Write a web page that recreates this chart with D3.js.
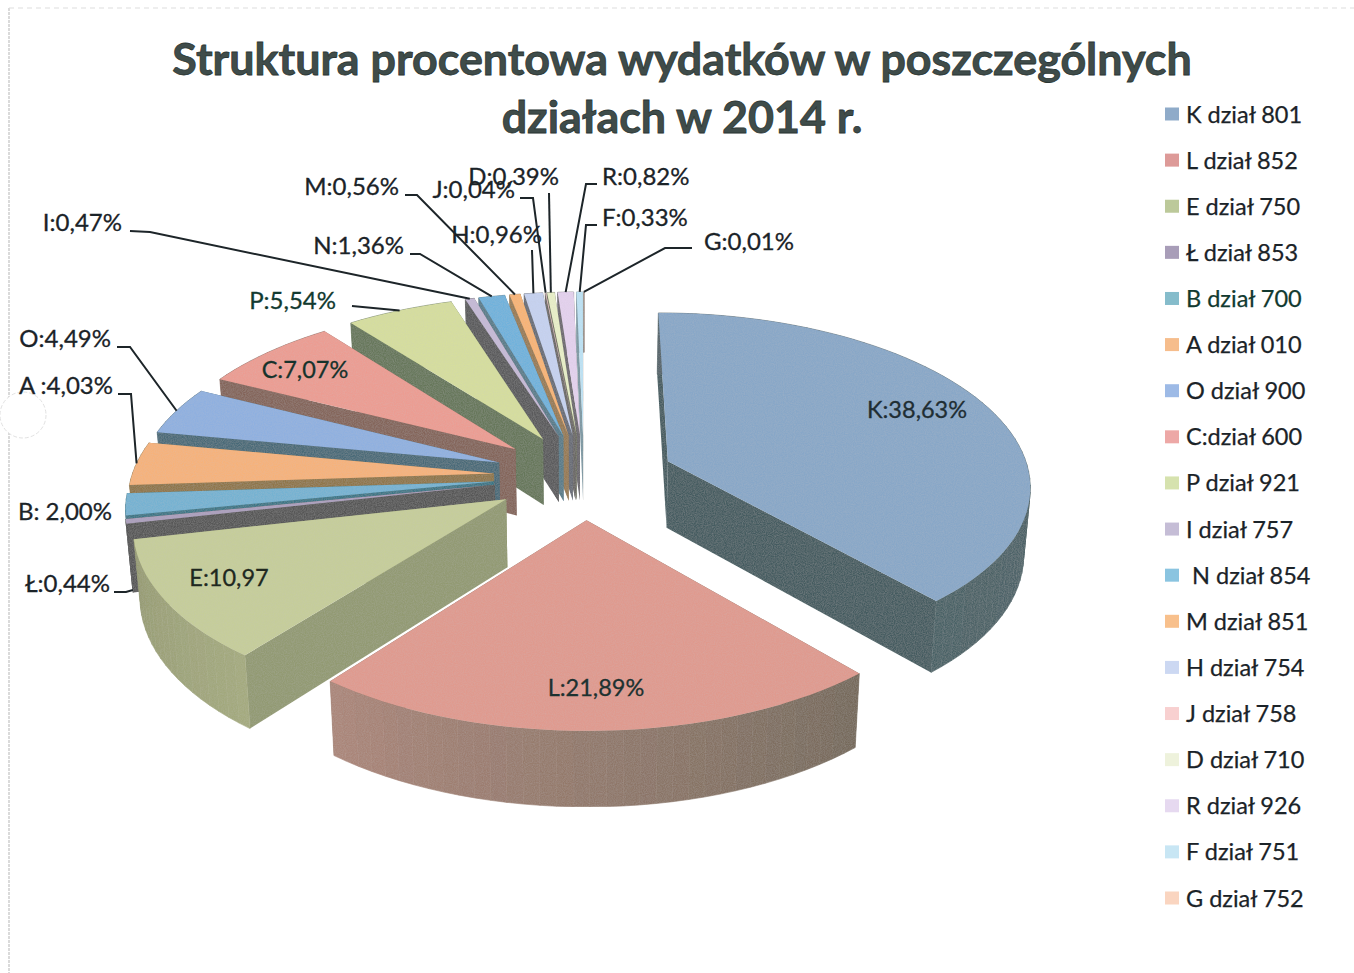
<!DOCTYPE html>
<html><head><meta charset="utf-8">
<style>html,body{margin:0;padding:0;background:#fff}svg{display:block}text{font-family:Lato,"Open Sans",sans-serif}</style>
<script src="https://cdn.jsdelivr.net/npm/d3@7"></script></head>
<body><svg id="c" width="1354" height="973"></svg>
<script>
// ---- data ----
const categories = ["K","L","E","Ł","B","A","O","C","P","I","N","M","H","J","D","R","F","G"];
const values = [38.63,21.89,10.97,0.44,2.00,4.03,4.49,7.07,5.54,0.47,1.36,0.56,0.96,0.04,0.39,0.82,0.33,0.01];
const legendLabels = ["K dział 801","L dział 852","E dział 750","Ł dział 853","B dział 700","A dział 010","O dział 900","C:dział 600","P dział 921","I dział 757"," N dział 854","M dział 851","H dział 754","J dział 758","D dział 710","R dział 926","F dział 751","G dział 752"];
const sliceLabels = ["K:38,63%","L:21,89%","E:10,97","Ł:0,44%","B: 2,00%","A :4,03%","O:4,49%","C:7,07%","P:5,54%","I:0,47%","N:1,36%","M:0,56%","H:0,96%","J:0,04%","D:0,39%","R:0,82%","F:0,33%","G:0,01%"];
const titleLines = ["Struktura procentowa wydatków w poszczególnych","działach w 2014 r."];
// ---- colours ----
const topColors = ["#88a7c8","#e09a8e","#c6cd9a","#ab9fbc","#74b2d2","#f6b27a","#8fb0e0","#ec9c92","#d6de9e","#c5b9d6","#70b2dc","#f8b474","#c6d2f0","#f5cdcd","#e8efc8","#e4d2ee","#bde2f4","#f8cfb5"];
const legendColors = ["#8fabc9","#dd9a98","#bcc99a","#a89db8","#85bccb","#f6bd8c","#9dbae6","#eda8a6","#d6e2ae","#c5bdd6","#8ac4e0","#f8c08c","#ccd8f2","#f8d0d0","#eef2dc","#e6d9f0","#c8e6f4","#fad5c0"];
const wallColors = ["#445c60","#76685a","#929a72","#565656","#3a7686","#8f7648","#4a6a78","#84655a","#66775a","#5a5a5c","#587c8a","#987a52","#686c76","#6b6866","#6d705e","#6c686e","#7d98a3","#8b7b6e"];
const rimStart = ["#54646a","#75695a","#a4aa7e","#565656","#3a7686","#8f7648","#4a6a78","#84655a","#66775a","#5a5a5c","#587c8a","#987a52","#686c76","#6b6866","#6d705e","#6c686e","#7d98a3","#8b7b6e"];
const rimEnd   = ["#4a6266","#ac8679","#969b72","#565656","#3a7686","#8f7648","#4a6a78","#84655a","#66775a","#5a5a5c","#587c8a","#987a52","#686c76","#6b6866","#6d705e","#6c686e","#7d98a3","#8b7b6e"];
const labelInk = ["#1f2e34","#1d3230","#20281f","#1b2328","#1b2328","#1b2328","#1b2328","#16332c","#123a30","#1b2328","#1b2328","#1b2328","#1b2328","#1b2328","#1b2328","#1b2328","#1b2328","#1b2328"];
// ---- layout ----
const cx=584, cy=476, R=362, A=171, persp=0.129, explode=0.25, depth=67, baseScale=0.985;
const labelPos = {K:[917,418,"middle",23.5],L:[596,696,"middle",23.5],E:[229,586,"middle",23.5],"C":[305,378,"middle",23.5],
  "Ł":[110,592,"end",24],B:[112,520,"end",24],A:[113,394,"end",24],O:[111,347,"end",24],P:[336,309,"end",24],I:[122,231,"end",24],
  N:[404,254,"end",24],M:[399,195,"end",24],H:[542,243,"end",24],J:[515,198,"end",24],D:[559,185,"end",24],R:[602,185,"start",24],F:[602,226,"start",24],G:[704,250,"start",24]};
const leaderElbows = {"Ł":[[114,592],[126,592]],A:[[118,394],[131,394]],O:[[117,347],[130,347]],P:[[352,306]],I:[[130,231],[150,232]],
  N:[[410,254],[420,254]],M:[[405,195],[417,195]],H:[[532,250]],J:[[520,198],[533,198]],D:[[549,193]],R:[[597,184],[586,184]],F:[[597,225],[586,225]],G:[[692,248],[665,248]]};
const leaderToBase = ["Ł"];

const svg=d3.select("#c");
const defs=svg.append("defs");
const f=defs.append("filter").attr("id","grain").attr("x",0).attr("y",0).attr("width","100%").attr("height","100%");
f.append("feTurbulence").attr("type","fractalNoise").attr("baseFrequency",0.9).attr("numOctaves",2).attr("seed",4).attr("result","n");
f.append("feColorMatrix").attr("in","n").attr("type","matrix").attr("values","0 0 0 0 0.55 0 0 0 0 0.55 0 0 0 0 0.55 0.32 0 0 0 -0.09").attr("result","g");
f.append("feComposite").attr("in","g").attr("in2","SourceAlpha").attr("operator","in").attr("result","g2");
f.append("feMerge").selectAll("feMergeNode").data(["SourceGraphic","g2"]).join("feMergeNode").attr("in",d=>d);

// scan frame
svg.append("line").attr("x1",9).attr("x2",9).attr("y1",8).attr("y2",973).attr("stroke","#b5b5b5").attr("stroke-width",1).attr("stroke-dasharray","3 1");
svg.append("line").attr("x1",9).attr("x2",1354).attr("y1",8).attr("y2",8).attr("stroke","#dddddd").attr("stroke-width",1).attr("stroke-dasharray","5 4");
svg.append("circle").attr("cx",23).attr("cy",415).attr("r",23).attr("fill","#fff").attr("stroke","#e2e2e2").attr("stroke-width",1).attr("stroke-dasharray","4 2");

// projection of plane coords (u right, v to viewer), base=true for the bottom plane
function project(u,v,base){
  const s=1/(1-persp*v);
  const x=R*u*s, y=A*v*s;
  return base?[cx+x*baseScale, cy+y*baseScale+depth*s]:[cx+x,cy+y];
}
const pie=d3.pie().sort(null).value(d=>d.value);
const arcs=pie(values.map((value,i)=>({value,i})));
const line=d3.line();
const slices=arcs.map(a=>{
  const i=a.data.i, mid=(a.startAngle+a.endAngle)/2;
  const ou=explode*Math.sin(mid), ov=-explode*Math.cos(mid);
  const rim=t=>{const th=a.startAngle+(a.endAngle-a.startAngle)*t;return [ou+Math.sin(th),ov-Math.cos(th)];};
  return {i,mid,ou,ov,rim,a};
}).sort((p,q)=>(-Math.cos(p.mid))-(-Math.cos(q.mid)));

const g=svg.append("g").attr("filter","url(#grain)");
slices.forEach(s=>{
  const n=Math.max(2,Math.ceil((s.a.endAngle-s.a.startAngle)/0.04));
  const ts=d3.range(n+1).map(k=>k/n);
  const col=d3.interpolateRgb(rimStart[s.i],rimEnd[s.i]);
  // radial walls
  [0,1].forEach(t=>{
    const p=s.rim(t);
    g.append("path").attr("d",line([project(s.ou,s.ov),project(p[0],p[1]),project(p[0],p[1],true),project(s.ou,s.ov,true)])+"Z")
      .attr("fill",wallColors[s.i]);
  });
  // outer rim band
  d3.pairs(ts).forEach(([t0,t1])=>{
    const p0=s.rim(t0),p1=s.rim(t1);
    g.append("path").attr("d",line([project(p0[0],p0[1]),project(p1[0],p1[1]),project(p1[0],p1[1],true),project(p0[0],p0[1],true)])+"Z")
      .attr("fill",col((t0+t1)/2)).attr("stroke",col((t0+t1)/2)).attr("stroke-width",0.6);
  });
  // top face
  g.append("path").attr("d",line([project(s.ou,s.ov),...ts.map(t=>{const p=s.rim(t);return project(p[0],p[1]);})])+"Z")
    .attr("fill",topColors[s.i]);
});

// leaders
const lg=svg.append("g").attr("fill","none").attr("stroke","#1d2529").attr("stroke-width",2);
slices.forEach(s=>{
  const c=categories[s.i], el=leaderElbows[c];
  if(!el) return;
  const p=s.rim(0.5), q=project(p[0],p[1],leaderToBase.includes(c));
  lg.append("path").attr("d",line([...el,q]));
});
// slice labels
const lab=svg.append("g").attr("stroke-width",0.3);
categories.forEach((c,i)=>{
  const p=labelPos[c]; if(!p) return;
  lab.append("text").attr("x",p[0]).attr("y",p[1]).attr("text-anchor",p[2]).attr("font-size",p[3]).attr("fill",labelInk[i]).attr("stroke",labelInk[i]).text(sliceLabels[i]);
});
// title
svg.append("g").attr("font-size",44.8).attr("font-weight",700).attr("fill","#3f4c4a").attr("stroke","#2b3634").attr("stroke-width",0.8).attr("text-anchor","middle")
 .selectAll("text").data(titleLines).join("text").attr("x",682).attr("y",(d,i)=>75+i*58).text(d=>d);
// legend
const ly=d3.scalePoint().domain(categories).range([114,898]);
const leg=svg.append("g").selectAll("g").data(categories).join("g").attr("transform",d=>`translate(1165,${ly(d)})`);
leg.append("rect").attr("x",0).attr("y",-6.5).attr("width",14).attr("height",13).attr("fill",(d,i)=>legendColors[i]);
leg.append("text").attr("x",21).attr("y",8.5).attr("font-size",23.5).attr("stroke-width",0.25).attr("stroke",(d,i)=>i==4?"#123a30":"#1b2328").attr("fill",(d,i)=>i==4?"#123a30":"#1b2328").style("white-space","pre").text((d,i)=>legendLabels[i]);
</script></body></html>
